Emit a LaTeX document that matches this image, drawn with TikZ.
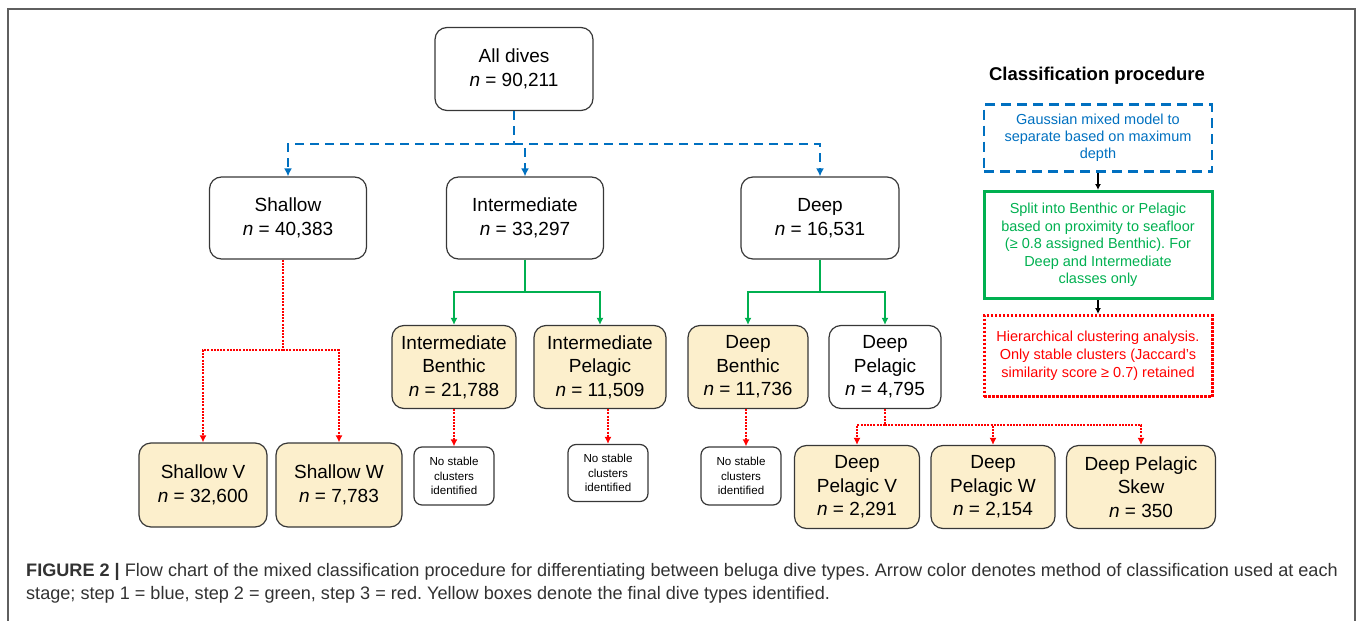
\documentclass[tikz,border=0pt]{standalone}
\usepackage{fontspec}
\setmainfont{Liberation Sans}
\usetikzlibrary{arrows.meta,positioning}
\definecolor{stepblue}{RGB}{0,112,192}
\definecolor{stepgreen}{RGB}{0,176,80}
\definecolor{stepred}{RGB}{255,0,0}
\definecolor{finalfill}{RGB}{252,239,204}
\definecolor{boxline}{RGB}{55,55,55}
\definecolor{captext}{RGB}{50,50,50}
\frenchspacing

\begin{document}
\begin{tikzpicture}[x=1pt,y=-1pt,
  box/.style={draw=boxline,line width=1.2pt,rounded corners=12pt,align=center,
    inner sep=0pt,font=\fontsize{19}{23.5}\selectfont},
  final/.style={box,fill=finalfill},
  nobox/.style={draw=boxline,line width=1.2pt,rounded corners=8pt,align=center,
    inner sep=0pt,font=\fontsize{11.6}{14.5}\selectfont,minimum width=80pt,minimum height=58pt},
  bluearr/.style={stepblue,line width=2.5pt,dash pattern=on 9pt off 6pt,-{Latex[length=8pt,width=8pt]}},
  greenarr/.style={stepgreen,line width=2pt,-{Latex[length=7pt,width=7pt]}},
  redarr/.style={stepred,line width=2pt,dash pattern=on 2pt off 1.2pt,-{Latex[length=7pt,width=7pt]}},
  legtext/.style={align=center,inner sep=0pt,minimum width=228pt}
]
\useasboundingbox (0,0) rectangle (1358,621);
% 枠
\draw[boxline!80,line width=1.5pt] (8,621) -- (8,9) -- (1355,9) -- (1355,621);

% 第1段
\node[box,minimum width=158pt,minimum height=83pt] (all) at (514,69) {All dives\\\textit{n} = 90,211};
\node[box,minimum width=157pt,minimum height=82pt] (shallow) at (288,218) {Shallow\\\textit{n} = 40,383};
\node[box,minimum width=157pt,minimum height=82pt] (inter) at (525,218) {Intermediate\\\textit{n} = 33,297};
\node[box,minimum width=158pt,minimum height=82pt] (deep) at (820,218) {Deep\\\textit{n} = 16,531};

% 第2段
\node[final,minimum width=124pt,minimum height=83pt] (intB) at (454,367) {Intermediate\\Benthic\\\textit{n} = 21,788};
\node[final,minimum width=132pt,minimum height=83pt] (intP) at (600,367) {Intermediate\\Pelagic\\\textit{n} = 11,509};
\node[final,minimum width=120pt,minimum height=83pt] (deepB) at (748,367) {Deep\\Benthic\\\textit{n} = 11,736};
\node[box,minimum width=112pt,minimum height=83pt] (deepP) at (885,367) {Deep\\Pelagic\\\textit{n} = 4,795};

% 第3段
\node[final,minimum width=128pt,minimum height=84pt] (shallowV) at (203,485) {Shallow V\\\textit{n} = 32,600};
\node[final,minimum width=126pt,minimum height=84pt] (shallowW) at (339,485) {Shallow W\\\textit{n} = 7,783};
\node[nobox] (nsIB) at (454,476) {No stable\\clusters\\identified};
\node[nobox,minimum height=57pt] (nsIP) at (608,473) {No stable\\clusters\\identified};
\node[nobox] (nsDB) at (741,476) {No stable\\clusters\\identified};
\node[final,minimum width=125pt,minimum height=83pt] (deepPV) at (857,487) {Deep\\Pelagic V\\\textit{n} = 2,291};
\node[final,minimum width=124pt,minimum height=83pt] (deepPW) at (993,487) {Deep\\Pelagic W\\\textit{n} = 2,154};
\node[final,minimum width=149pt,minimum height=83pt] (deepPS) at (1141,487) {Deep Pelagic\\Skew\\\textit{n} = 350};

% 分岐点
\coordinate (bsplit) at (514,144);
\coordinate (isplit) at (525,292);
\coordinate (dsplit) at (820,292);
\coordinate (ssplit) at (283,350);
\coordinate (psplit) at (885,425);

% step 1
\draw[bluearr,-] (all) -- (bsplit);
\draw[bluearr] (bsplit) -| (shallow);
\draw[bluearr] (bsplit) -| (inter);
\draw[bluearr] (bsplit) -| (deep);

% step 2
\draw[greenarr,-] (inter) -- (isplit);
\draw[greenarr] (isplit) -| (intB);
\draw[greenarr] (isplit) -| (intP);
\draw[greenarr,-] (deep) -- (dsplit);
\draw[greenarr] (dsplit) -| (deepB);
\draw[greenarr] (dsplit) -| (deepP);

% step 3
\draw[redarr,-] (shallow.south -| ssplit) -- (ssplit);
\draw[redarr] (ssplit) -| (shallowV);
\draw[redarr] (ssplit) -| (shallowW);
\draw[redarr] (intB) -- (nsIB);
\draw[redarr] (intP.south -| nsIP) -- (nsIP);
\draw[redarr] ([xshift=-2pt]deepB.south) -- ([xshift=-2pt]deepB.south |- nsDB.north);
\draw[redarr,-] (deepP) -- (psplit);
\draw[redarr] (psplit) -| (deepPV);
\draw[redarr] (psplit) -| (deepPW);
\draw[redarr] (psplit) -| (deepPS);

% 凡例
\node[font=\fontsize{18.5}{22}\selectfont\bfseries] (legtitle) at (1097,76) {Classification procedure};
\node[legtext,draw=stepblue,text=stepblue,line width=2.5pt,dash pattern=on 10pt off 6pt,
  minimum height=67pt,font=\fontsize{14.5}{17}\selectfont] (leg1) at (1098,138)
  {Gaussian mixed model to\\separate based on maximum\\depth};
\node[legtext,draw=stepgreen,text=stepgreen,line width=3pt,
  minimum height=107pt,font=\fontsize{14.5}{17.6}\selectfont] (leg2) at (1098,245)
  {Split into Benthic or Pelagic\\based on proximity to seafloor\\(≥ 0.8 assigned Benthic). For\\Deep and Intermediate\\classes only};
\node[legtext,draw=stepred,text=stepred,line width=3pt,dash pattern=on 2.5pt off 1.5pt,
  minimum height=81pt,font=\fontsize{14.5}{18.2}\selectfont] (leg3) at (1098,356)
  {Hierarchical clustering analysis.\\Only stable clusters (Jaccard’s\\similarity score ≥ 0.7) retained};
\draw[line width=1.5pt,-{Latex[length=6pt,width=6pt]}] (leg1) -- (leg2);
\draw[line width=1.5pt,-{Latex[length=6pt,width=6pt]}] (leg2) -- (leg3);

% 説明文
\node[anchor=base west,inner sep=0pt,text=captext,font=\fontsize{18.1}{22}\selectfont] (cap1) at (26,576)
  {\textbf{FIGURE 2 |} Flow chart of the mixed classification procedure for differentiating between beluga dive types. Arrow color denotes method of classification used at each};
\node[anchor=base west,inner sep=0pt,text=captext,font=\fontsize{18.1}{22}\selectfont] (cap2) at (26,599)
  {stage; step 1 = blue, step 2 = green, step 3 = red. Yellow boxes denote the final dive types identified.};
\end{tikzpicture}
\end{document}
